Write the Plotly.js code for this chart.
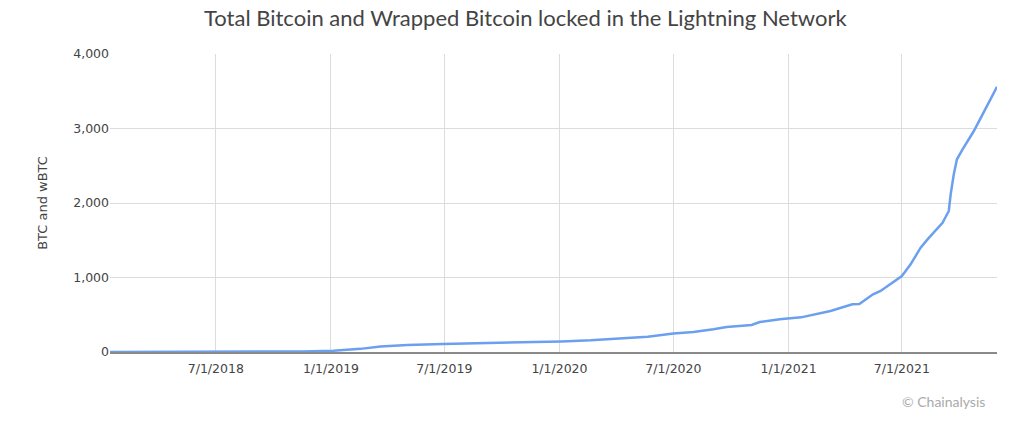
<!DOCTYPE html>
<html>
<head>
<meta charset="utf-8">
<script src="https://cdn.plot.ly/plotly-3.0.1.min.js"></script>
<style>html,body{margin:0;padding:0;background:#fff;}#chart{width:1024px;height:429px;}</style>
</head>
<body>
<div id="chart"></div>
<script>
const dates = [
  "2018-01-13","2018-04-01","2018-07-01","2018-10-11","2018-11-17","2019-01-05",
  "2019-02-17","2019-03-21","2019-05-03","2019-06-29","2019-08-27","2019-10-19",
  "2020-01-04","2020-02-20","2020-04-03","2020-05-21","2020-07-01","2020-08-02",
  "2020-09-03","2020-09-24","2020-11-03","2020-11-16","2020-12-18","2021-01-21",
  "2021-03-09","2021-04-13","2021-04-24","2021-05-16","2021-05-28","2021-06-13",
  "2021-07-01","2021-07-15","2021-07-31","2021-08-11","2021-09-04","2021-09-14",
  "2021-09-17","2021-09-22","2021-09-27","2021-10-06","2021-10-24","2021-11-07",
  "2021-11-30"
];
const btcLocked = [
  0, 1, 2, 3, 8, 17,
  42, 75, 94, 107, 115, 125,
  142, 157, 179, 206, 247, 269,
  305, 336, 363, 403, 439, 465,
  550, 640, 645, 775, 819, 908,
  1020, 1177, 1400, 1512, 1735, 1893,
  2117, 2385, 2587, 2721, 2966, 3190,
  3560
];
const yTicks = [0, 1000, 2000, 3000, 4000];
const yTickText = ["0", "1,000", "2,000", "3,000", "4,000"];
const xTicks = ["2018-07-01","2019-01-01","2019-07-01","2020-01-01","2020-07-01","2021-01-01","2021-07-01"];
const xTickText = ["7/1/2018","1/1/2019","7/1/2019","1/1/2020","7/1/2020","1/1/2021","7/1/2021"];

const trace = {
  x: dates, y: btcLocked, type: "scatter", mode: "lines",
  line: {color: "#6b9ff0", width: 2.5},
  hoverinfo: "skip"
};
const layout = {
  width: 1024, height: 429,
  margin: {l: 110, r: 27, t: 54, b: 77},
  paper_bgcolor: "#fff", plot_bgcolor: "#fff",
  showlegend: false,
  title: {text: "Total Bitcoin and Wrapped Bitcoin locked in the Lightning Network",
          font: {family: "Lato, 'Noto Sans', sans-serif", size: 22, color: "#444"},
          x: 0.513, xanchor: "center", y: 0.957, yanchor: "middle"},
  xaxis: {
    type: "date", range: ["2018-01-13", "2021-11-30"],
    tickvals: xTicks, ticktext: xTickText,
    showgrid: true, gridcolor: "#dcdcdc", gridwidth: 1,
    zeroline: false, showline: true, linecolor: "#8a8a8a", linewidth: 2,
    ticks: "outside", ticklen: 4, tickcolor: "rgba(0,0,0,0)",
    tickfont: {family: "'DejaVu Sans', sans-serif", size: 12.5, color: "#444"}
  },
  yaxis: {
    range: [0, 4000], tickvals: yTicks, ticktext: yTickText,
    showgrid: true, gridcolor: "#dcdcdc", gridwidth: 1,
    zeroline: false, showline: false, ticks: "", ticklen: 0,
    tickfont: {family: "'DejaVu Sans', sans-serif", size: 12.5, color: "#444"},
    title: {text: "BTC and wBTC", font: {family: "'DejaVu Sans', sans-serif", size: 13, color: "#444"}, standoff: 22}
  },
  annotations: [{
    text: "© Chainalysis", xref: "paper", yref: "paper", x: 0.989, y: -0.167,
    xanchor: "right", yanchor: "middle", showarrow: false,
    font: {family: "Lato, 'Noto Sans', sans-serif", size: 14, color: "#aaa"}
  }]
};
Plotly.newPlot("chart", [trace], layout, {staticPlot: true, displayModeBar: false});
</script>
</body>
</html>
